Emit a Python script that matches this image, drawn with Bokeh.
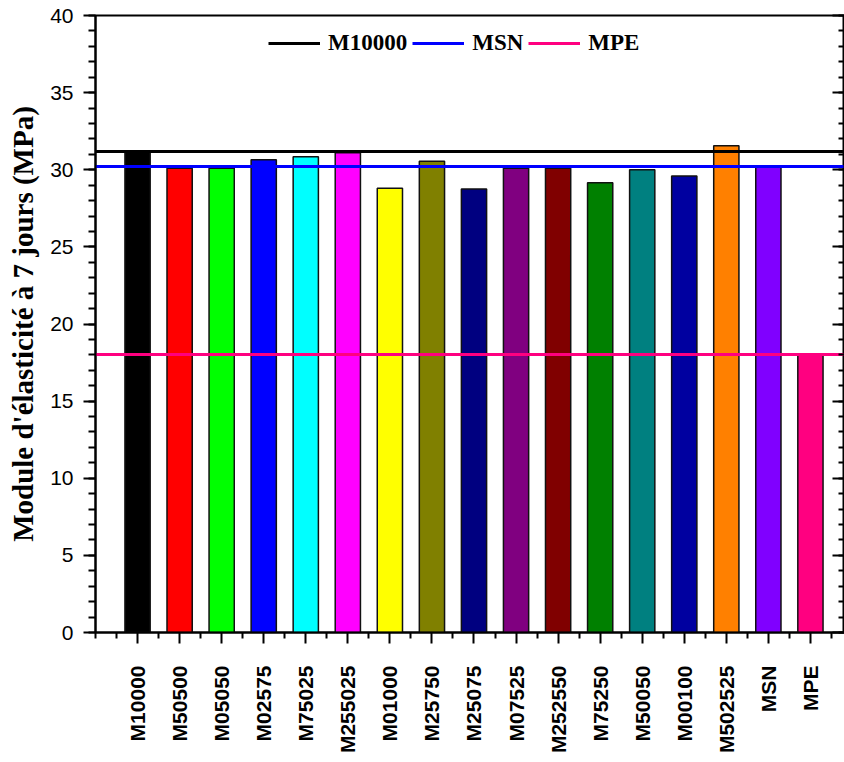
import math
from bokeh.plotting import figure
from bokeh.models import (Range1d, FixedTicker, SingleIntervalTicker, LinearAxis,
                          Legend, LegendItem, ColumnDataSource)
from bokeh.embed import file_html
from bokeh.resources import INLINE

# ---- data ----
categories = ["M10000", "M50500", "M05050", "M02575", "M75025", "M255025", "M01000",
              "M25750", "M25075", "M07525", "M252550", "M75250", "M50050", "M00100",
              "M502525", "MSN", "MPE"]
module_7j = [31.2, 30.1, 30.1, 30.65, 30.85, 31.1, 28.8, 30.55, 28.75, 30.1, 30.1,
             29.15, 30.0, 29.6, 31.55, 30.2, 18.0]
bar_colors = ["#000000", "#FF0000", "#00FF00", "#0000FF", "#00FFFF", "#FF00FF", "#FFFF00",
              "#808000", "#000080", "#800080", "#800000", "#008000", "#008080", "#0000A0",
              "#FF8000", "#8000FF", "#FF0080"]
ref_names = ["M10000", "MSN", "MPE"]
ref_values = [31.2, 30.2, 18.0]
ref_colors = ["#000000", "#0000FF", "#FF0080"]
y_ticks = [0, 5, 10, 15, 20, 25, 30, 35, 40]
y_label = "Module d'élasticité à 7 jours (MPa)"

x_pos = list(range(1, len(categories) + 1))

p = figure(width=844, height=762, output_backend="svg", toolbar_location=None,
           x_range=Range1d(0, 17.81), y_range=Range1d(0, 40),
           min_border_left=95, min_border_right=0, min_border_top=15, min_border_bottom=130)
p.xgrid.visible = False
p.ygrid.visible = False
p.outline_line_color = "black"
p.outline_line_width = 2
p.background_fill_color = "white"
p.border_fill_color = "white"

src = ColumnDataSource(dict(x=x_pos, top=module_7j, color=bar_colors))
p.vbar(x="x", top="top", width=0.6, bottom=0, source=src, fill_color="color",
       line_color="#111111", line_width=1.5)

items = []
for name, val, col in zip(ref_names, ref_values, ref_colors):
    r = p.hspan(y=[val], line_color=col, line_width=3)
    items.append(LegendItem(label=name, renderers=[r]))

legend = Legend(items=items, orientation="horizontal", location=(173, 576),
                glyph_width=52, glyph_height=22, label_standoff=8, spacing=5,
                padding=0, margin=0, border_line_color=None, background_fill_alpha=0,
                label_text_font="Liberation Serif", label_text_font_style="bold",
                label_text_font_size="23px", label_text_color="black")
p.add_layout(legend)

# x axis
xa = p.xaxis[0]
xa.ticker = FixedTicker(ticks=x_pos, minor_ticks=[0] + [x - 0.5 for x in x_pos] + [x_pos[-1] + 0.5])
xa.major_label_overrides = {x: c for x, c in zip(x_pos, categories)}
xa.major_label_orientation = math.pi / 2
xa.major_label_text_font = "Liberation Sans"
xa.major_label_text_font_style = "bold"
xa.major_label_text_font_size = "21px"
xa.major_label_text_color = "black"
xa.major_label_standoff = 22
xa.axis_line_width = 2
xa.axis_line_color = "black"
xa.major_tick_out = 11
xa.major_tick_in = 0
xa.minor_tick_out = 6
xa.minor_tick_in = 0
xa.major_tick_line_width = 2
xa.minor_tick_line_width = 2

# y axis
ya = p.yaxis[0]
ya.ticker = SingleIntervalTicker(interval=5, num_minor_ticks=5)
ya.axis_label = y_label
ya.axis_label_text_font = "Liberation Serif"
ya.axis_label_text_font_style = "bold"
ya.axis_label_text_font_size = "29px"
ya.axis_label_text_color = "black"
ya.axis_label_standoff = 8
ya.major_label_text_font = "Liberation Sans"
ya.major_label_text_font_size = "21px"
ya.major_label_text_color = "black"
ya.major_label_standoff = 10
ya.axis_line_width = 2
ya.major_tick_out = 12
ya.major_tick_in = 0
ya.minor_tick_out = 7
ya.minor_tick_in = 0
ya.major_tick_line_width = 2
ya.minor_tick_line_width = 2

# right axis with inward ticks, no labels
ra = LinearAxis(ticker=SingleIntervalTicker(interval=5, num_minor_ticks=5),
                major_tick_in=12, major_tick_out=0, minor_tick_in=6, minor_tick_out=0,
                major_label_overrides={t: "" for t in y_ticks}, major_label_standoff=0,
                axis_line_width=2, major_tick_line_width=2, minor_tick_line_width=2)
p.add_layout(ra, "right")

open("out.html", "w").write(file_html(p, INLINE))
